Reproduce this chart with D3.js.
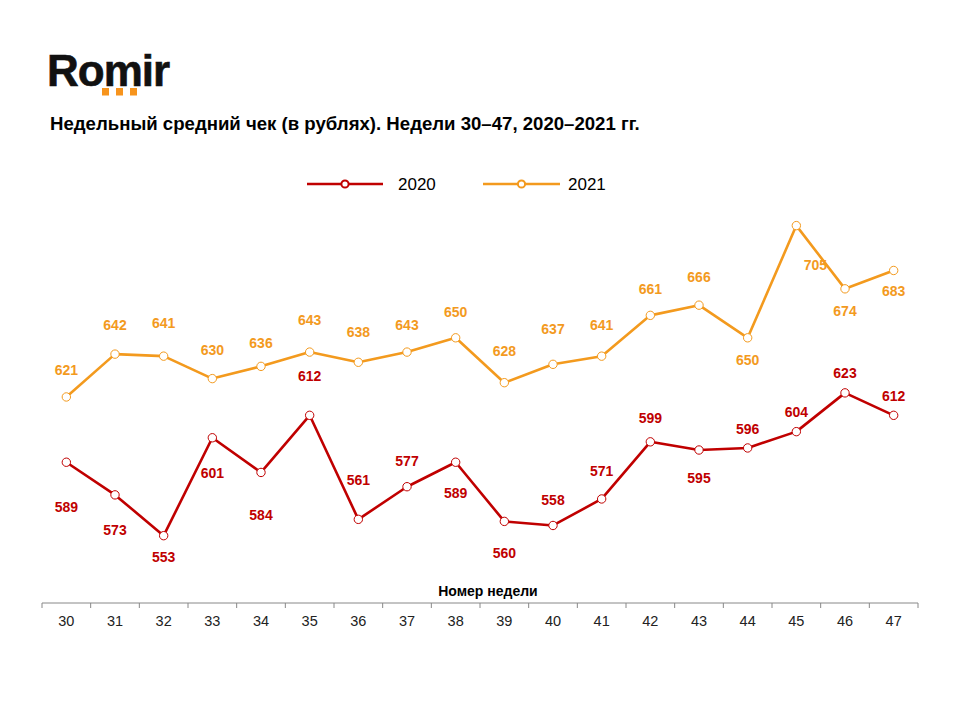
<!DOCTYPE html>
<html><head><meta charset="utf-8">
<script src="https://cdn.jsdelivr.net/npm/d3@7"></script>
<style>body{margin:0;background:#fff;}svg{display:block;font-family:Arial,"Liberation Sans",sans-serif;}</style>
</head><body>
<svg id="c" width="960" height="720"></svg>
<script>
const weeks = ["30","31","32","33","34","35","36","37","38","39","40","41","42","43","44","45","46","47"];
const values2020 = [589,573,553,601,584,612,561,577,589,560,558,571,599,595,596,604,623,612];
const values2021 = [621,642,641,630,636,643,638,643,650,628,637,641,661,666,650,705,674,683];
const seriesNames = ["2020","2021"];
// label placement (layout only): vertical offsets of value labels
const labelDy2020 = [45,35,21,35,43,-39,-39,-26,31,32,-25,-28,-24,28,-19,-20,-20,-19];
const labelDy2021 = [-27,-29,-33,-29,-23,-32,-30,-27,-26,-32,-35,-31,-26,-28,22,39,22,21];
const labelDx2021 = [0,0,0,0,0,0,0,0,0,0,0,0,0,0,0,19,0,0];

const colors = {"2020":"#C00000","2021":"#F39A1E"};
const svg = d3.select("#c");

// logo
svg.append("text").attr("x",47).attr("y",86).attr("font-size",44).attr("font-weight","bold")
  .attr("fill","#111").attr("letter-spacing","-1").attr("stroke","#111").attr("stroke-width",0.6).text("Romir");
[0,1,2].forEach(i=>svg.append("rect").attr("x",102+i*14).attr("y",88).attr("width",7).attr("height",7.5).attr("fill","#F7941D"));

// title
svg.append("text").attr("x",50).attr("y",130).attr("font-size",18.6).attr("font-weight","bold").attr("fill","#000")
  .text("Недельный средний чек (в рублях). Недели 30–47, 2020–2021 гг.");

const x = d3.scaleBand().domain(weeks).range([42,918]);
const y = d3.scaleLinear().domain([520,720]).range([603,195]);

// axis
const ax = svg.append("g").attr("transform","translate(0,603)");
ax.append("line").attr("x1",42).attr("x2",918).attr("stroke","#888").attr("stroke-width",1);
const bounds = weeks.map(w=>x(w)).concat([x(weeks[weeks.length-1])+x.bandwidth()]);
ax.selectAll("line.t").data(bounds).enter().append("line").attr("class","t")
  .attr("x1",d=>d).attr("x2",d=>d).attr("y1",0).attr("y2",5).attr("stroke","#888");
ax.selectAll("text").data(weeks).enter().append("text")
  .attr("x",d=>x(d)+x.bandwidth()/2).attr("y",23).attr("text-anchor","middle")
  .attr("font-size",14.5).attr("fill","#222").text(d=>d);
svg.append("text").attr("x",488).attr("y",596).attr("text-anchor","middle").attr("font-size",14)
  .attr("font-weight","bold").attr("fill","#000").text("Номер недели");

const cx = d=>x(d)+x.bandwidth()/2;
const series = [
  {name:"2020", vals:values2020, dy:labelDy2020, dx:weeks.map(()=>0)},
  {name:"2021", vals:values2021, dy:labelDy2021, dx:labelDx2021}
];
const line = d3.line().x(d=>cx(d.w)).y(d=>y(d.v));
series.forEach(s=>{
  const data = weeks.map((w,i)=>({w, v:s.vals[i], dy:s.dy[i], dx:s.dx[i]}));
  const g = svg.append("g");
  g.append("path").attr("d",line(data)).attr("fill","none").attr("stroke",colors[s.name]).attr("stroke-width",2.6).attr("stroke-linejoin","round");
  g.selectAll("circle").data(data).enter().append("circle").attr("cx",d=>cx(d.w)).attr("cy",d=>y(d.v)).attr("r",4.2)
    .attr("fill","#fff").attr("stroke",colors[s.name]).attr("stroke-width",1);
  g.selectAll("text").data(data).enter().append("text").attr("x",d=>cx(d.w)+d.dx).attr("y",d=>y(d.v)+d.dy)
    .attr("dy","0.35em").attr("text-anchor","middle").attr("font-size",14).attr("font-weight","bold")
    .attr("fill",colors[s.name]).text(d=>d.v);
});

// legend
const leg = [{n:"2020",x1:307,x2:383,tx:398},{n:"2021",x1:483,x2:560,tx:568}];
leg.forEach(l=>{
  svg.append("line").attr("x1",l.x1).attr("x2",l.x2).attr("y1",184).attr("y2",184).attr("stroke",colors[l.n]).attr("stroke-width",2.6);
  svg.append("circle").attr("cx",(l.x1+l.x2)/2).attr("cy",184).attr("r",3.6).attr("fill","#fff").attr("stroke",colors[l.n]).attr("stroke-width",2);
  svg.append("text").attr("x",l.tx).attr("y",184).attr("dy","0.36em").attr("font-size",17).attr("fill","#000").text(l.n);
});
</script>
</body></html>
